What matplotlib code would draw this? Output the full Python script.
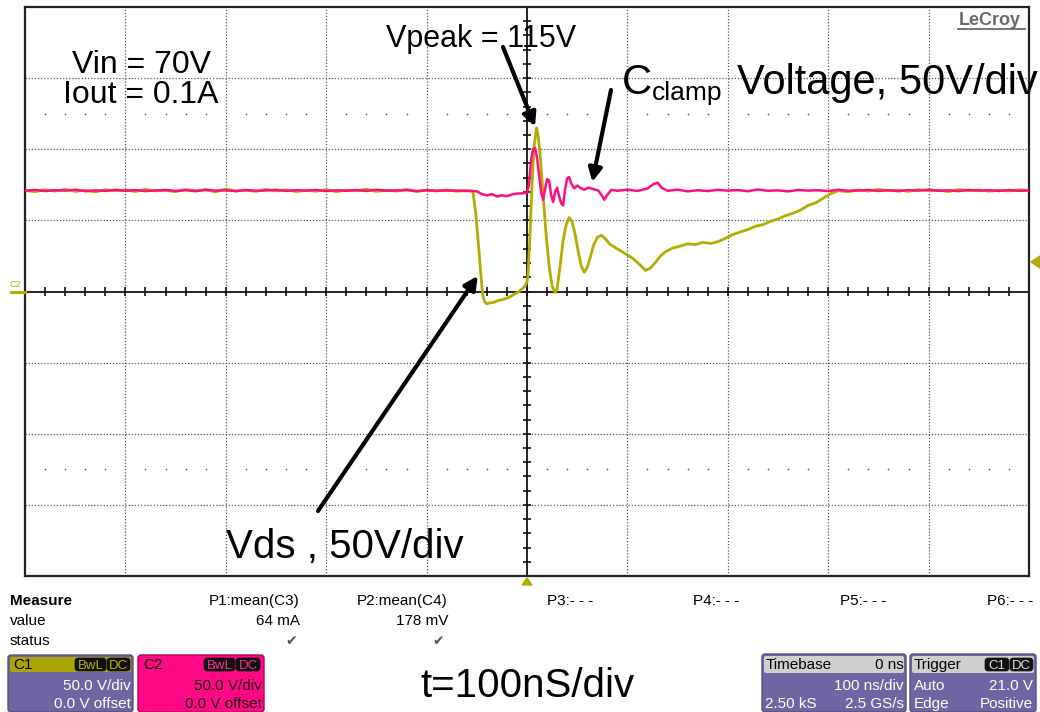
import matplotlib
matplotlib.use("Agg")
import matplotlib.pyplot as plt
from matplotlib.patches import FancyBboxPatch, Polygon
from matplotlib.collections import LineCollection

plt.rcParams['font.family'] = ['Liberation Sans', 'DejaVu Sans']

# ---- waveform data: time in ns, voltage in V (50 V/div, 100 ns/div) ----
vds_t = [-500, -490, -480, -470, -460, -450, -440, -430, -420, -410, -400, -390, -380, -370,
         -360, -350, -340, -330, -320, -310, -300, -290, -280, -270, -260, -250, -240, -230,
         -220, -210, -200, -190, -180, -170, -160, -150, -140, -130, -120, -110, -100, -90,
         -80, -70, -60, -54,
         -51, -48, -46, -44, -42, -40, -37, -33, -29, -25, -21, -17, -13, -9, -5, -2, 0,
         1, 3, 5, 7, 9.5, 11, 13, 16, 19, 22, 25, 28, 30, 33, 36, 39, 42, 45, 48, 51, 54,
         57, 60, 63, 66, 70, 74, 78, 83, 90, 97, 105, 113, 118, 123, 128, 133, 138, 145,
         153, 160, 168, 175, 183, 190, 198, 205, 213, 220, 228, 235, 243, 250, 258, 265,
         273, 280, 288, 295, 303, 310, 320, 330, 340, 350, 360, 370, 380, 390, 400, 410,
         420, 430, 440, 450, 460, 470, 480, 490, 500]
vds_v = [71.0, 70.2, 71.5, 70.6, 71.8, 70.4, 71.2, 70.0, 71.6, 70.8, 71.4, 70.3, 71.9, 70.7,
         71.1, 70.2, 71.7, 70.9, 71.3, 70.1, 72.0, 70.6, 71.2, 70.4, 71.8, 70.7, 71.5, 70.3,
         71.0, 70.5, 71.6, 70.2, 71.3, 70.8, 71.9, 70.4, 71.1, 70.6, 71.7, 70.3, 71.2, 70.7,
         71.4, 70.5, 71.0, 70.6,
         55.0, 30.0, 12.0, -3.0, -7.5, -8.6, -8.0, -7.6, -6.4, -5.8, -4.9, -3.8, -2.0, -0.5,
         1.8, 3.8, 7.0,
         11.0, 40.0, 75.0, 102.0, 115.0, 110.0, 97.0, 68.0, 40.0, 18.0, 4.0, -0.7, 2.0,
         18.0, 36.0, 47.0, 52.0, 49.0, 40.0, 28.0, 18.0,
         13.5, 17.0, 24.0, 32.0, 38.0, 39.5, 37.0, 33.0, 30.0, 27.0, 23.5, 18.5, 14.8, 16.5,
         20.5, 25.0, 28.0, 30.5,
         32.0, 33.5, 33.0, 34.5, 33.8, 35.0, 37.5, 40.0, 42.0, 43.5, 46.0, 47.0, 49.5, 51.0,
         53.5, 55.0, 57.5, 60.5, 62.5, 65.5, 69.0, 70.8, 70.2, 71.4, 70.6, 71.8, 70.9, 71.3,
         70.4, 71.6, 70.8, 71.2, 70.3, 71.7, 70.9, 71.4, 70.5, 71.1, 70.7, 71.5, 71.0]

clamp_t = [-500, -490, -480, -470, -460, -450, -440, -430, -420, -410, -400, -390, -380, -370,
           -360, -350, -340, -330, -320, -310, -300, -290, -280, -270, -260, -250, -240, -230,
           -220, -210, -200, -190, -180, -170, -160, -150, -140, -130, -120, -110, -100, -90,
           -80, -70, -60, -50, -45, -40, -35, -30, -25, -20, -15, -10, -5, 0,
           2, 4, 6, 8, 10, 12, 14, 16, 18, 20, 22, 24, 26, 28, 30, 32, 34, 36, 38, 40, 42,
           44, 47, 50, 53, 57, 61, 66, 71, 75, 77, 80, 84, 90, 100, 110, 120, 126, 130, 134,
           140, 150, 160, 170, 180, 190, 200, 210, 220, 230, 240, 250, 260, 270, 280, 290,
           300, 310, 320, 330, 340, 350, 360, 370, 380, 390, 400, 410, 420, 430, 440, 450,
           460, 470, 480, 490, 500]
clamp_v = [70.8, 71.4, 70.6, 71.2, 70.9, 71.6, 70.5, 71.1, 70.7, 71.5, 70.8, 71.3, 70.6, 71.0,
           71.4, 70.7, 71.2, 70.5, 71.6, 70.9, 71.1, 70.6, 71.3, 70.8, 71.0, 71.5, 70.7, 71.2,
           70.9, 71.4, 70.6, 71.1, 70.8, 71.3, 70.7, 71.5, 70.9, 71.0, 71.3, 70.6, 71.2, 70.8,
           71.0, 70.9, 70.7, 70.5, 68.5, 67.5, 68.5, 66.8, 67.6, 67.0, 68.2, 68.8, 69.0, 69.5,
           75.0, 92.0, 100.0, 101.0, 94.0, 82.0, 70.0, 64.5, 72.0, 79.0, 78.0, 68.0, 63.0,
           70.0, 73.0, 67.0, 62.0, 60.5, 72.0, 79.5, 80.5,
           76.0, 72.5, 74.5, 73.0, 71.5, 73.0, 72.0, 71.0, 67.0, 64.5, 68.0, 71.5, 70.8,
           71.6, 70.7, 72.4, 75.5, 76.5, 73.0,
           70.8, 71.6, 70.4, 71.2, 70.6, 71.5, 70.9, 71.3, 70.5, 71.7, 70.8, 71.1, 70.4, 71.4,
           70.9, 71.2, 70.6, 71.5, 70.8, 71.0, 71.4, 70.7, 71.2, 70.5, 71.3, 70.9, 71.6, 70.8,
           71.1, 70.6, 71.4, 70.9, 71.2, 70.7, 71.3, 70.8, 71.0]

VOLT_PER_DIV = 50
NS_PER_DIV = 100

OLIVE = '#b2ad00'
PINK = '#ff0f7f'
PURPLE = '#6d66a3'

W, H = 1040, 712
fig = plt.figure(figsize=(W / 100, H / 100), dpi=100)
fig.patch.set_facecolor('white')

# scope screen: 10 x 8 divisions
ax = fig.add_axes([25 / W, (H - 576) / H, 1004 / W, 569 / H])
ax.set_xlim(-5 * NS_PER_DIV, 5 * NS_PER_DIV)
ax.set_ylim(-4 * VOLT_PER_DIV, 4 * VOLT_PER_DIV)
ax.set_xticks([])
ax.set_yticks([])
for s in ax.spines.values():
    s.set_linewidth(1.6)
    s.set_color('#222222')

# dotted graticule
for k in range(-4, 5):
    if k != 0:
        ax.axvline(k * NS_PER_DIV, color='#555555', lw=0.9, ls=(0, (1, 1.5)), zorder=1)
for k in range(-3, 4):
    if k != 0:
        ax.axhline(k * VOLT_PER_DIV, color='#555555', lw=0.9, ls=(0, (1, 1.5)), zorder=1)

# centre axes with minor ticks every 0.2 div
ax.axhline(0, color='#111111', lw=1.3, zorder=2)
ax.axvline(0, color='#111111', lw=1.3, zorder=2)
segs = []
for i in range(-25, 26):
    t = i * NS_PER_DIV / 5
    segs.append([(t, -2.9), (t, 2.9)])
for i in range(-20, 21):
    v = i * VOLT_PER_DIV / 5
    segs.append([(-4.2, v), (4.2, v)])
ax.add_collection(LineCollection(segs, colors='#111111', linewidths=1.2, zorder=2))

# dotted marker rows at +/- 2.5 div
dot_t = [i * NS_PER_DIV / 5 for i in range(-24, 25) if i % 5 != 0]
for v in (2.5 * VOLT_PER_DIV, -2.5 * VOLT_PER_DIV):
    ax.scatter(dot_t, [v] * len(dot_t), s=1.5, color='#555555', zorder=1, linewidths=0)

# traces
ax.plot(vds_t, vds_v, color=OLIVE, lw=2.0, zorder=3)
ax.plot(clamp_t, clamp_v, color=PINK, lw=1.8, zorder=4)

# overlay in pixel coordinates for labels and the status panel
ov = fig.add_axes([0, 0, 1, 1], zorder=5)
ov.set_xlim(0, W)
ov.set_ylim(H, 0)
ov.axis('off')
ov.patch.set_alpha(0)


def txt(x, y, s, size, ha='left', color='black', weight='normal', **kw):
    ov.text(x, y, s, fontsize=size, ha=ha, va='baseline', color=color,
            fontweight=weight, **kw)


# annotations
txt(141, 73, 'Vin = 70V', 23, ha='center')
txt(141, 103, 'Iout = 0.1A', 23, ha='center')
txt(386, 47, 'Vpeak = 115V', 22)
txt(622, 94, 'C', 30)
txt(652, 100, 'clamp', 19)
txt(737, 94, 'Voltage, 50V/div', 30)
txt(226, 558, 'Vds , 50V/div', 29)
txt(420, 697, 't=100nS/div', 29)

arrow = dict(arrowstyle='-|>', lw=3, color='black', mutation_scale=20, shrinkA=0, shrinkB=0)
ax.annotate('', xy=(8, 116), xycoords='data', xytext=(503, 47), textcoords=ov.transData,
            arrowprops=arrow)
ax.annotate('', xy=(65, 77), xycoords='data', xytext=(611, 90), textcoords=ov.transData,
            arrowprops=arrow)
ax.annotate('', xy=(-49, 11), xycoords='data', xytext=(318, 511), textcoords=ov.transData,
            arrowprops=arrow)

# LeCroy badge
txt(959, 25, 'LeCroy', 13, color='#6a6a6a', weight='bold')
ov.plot([958, 1025], [29, 29], color='#6a6a6a', lw=1.3)

# channel / trigger markers on the screen edge
txt(9, 287, 'C2', 6.5, color=OLIVE)
ov.plot([11, 25], [292, 292], color=OLIVE, lw=2.2)
ov.add_patch(Polygon([[1031, 262], [1040, 256], [1040, 268]], closed=True, color=OLIVE))
ov.add_patch(Polygon([[527, 578], [522, 585], [532, 585]], closed=True, color=OLIVE))

# measurement table
MS = 11
txt(10, 605, 'Measure', MS, weight='bold')
txt(10, 625, 'value', MS)
txt(10, 645, 'status', MS)
txt(300, 605, 'P1:mean(C3)', MS, ha='right')
txt(300, 625, '64 mA', MS, ha='right')
txt(448, 605, 'P2:mean(C4)', MS, ha='right')
txt(448, 625, '178 mV', MS, ha='right')
for xc in (291, 438):
    ov.text(xc, 645, '\u2714', fontsize=10, ha='center', va='baseline', color='#555555',
            family='DejaVu Sans')
for xs, lab in ((547, 'P3:- - -'), (693, 'P4:- - -'), (840, 'P5:- - -'), (987, 'P6:- - -')):
    txt(xs, 605, lab, MS)


def box(x, y, w, h, fc, ec='#4a4a6a', lw=1.0, r=3):
    ov.add_patch(FancyBboxPatch((x, y), w, h, boxstyle=f'round,pad=0,rounding_size={r}',
                                fc=fc, ec=ec, lw=lw))


def badge(x, w, y, label, fc, tc):
    box(x, y, w, 13, fc, ec=fc, lw=0.5, r=3)
    ov.text(x + w / 2, y + 11, label, fontsize=9.5, ha='center', va='baseline', color=tc)


CS = 11
# C1 descriptor
box(8, 655, 125, 57, PURPLE, ec='#55507f')
ov.add_patch(FancyBboxPatch((10, 657), 121, 15, boxstyle='round,pad=0,rounding_size=2',
                            fc='#aaa500', ec='none'))
txt(13, 669, 'C1', CS)
badge(75, 31, 658, 'BwL', '#111111', '#b9b400')
badge(107, 23, 658, 'DC', '#111111', '#b9b400')
txt(131, 690, '50.0 V/div', CS, ha='right', color='white')
txt(131, 708, '0.0 V offset', CS, ha='right', color='white')

# C2 descriptor
box(138, 655, 126, 57, '#ff0a84', ec='#b00060')
txt(143, 669, 'C2', CS)
badge(204, 31, 658, 'BwL', '#111111', '#ff2d95')
badge(236, 24, 658, 'DC', '#111111', '#ff2d95')
txt(262, 690, '50.0 V/div', CS, ha='right', color='#1a0010')
txt(262, 708, '0.0 V offset', CS, ha='right', color='#1a0010')

# Timebase descriptor
box(762, 654, 144, 58, PURPLE, ec='#55507f')
ov.add_patch(FancyBboxPatch((764, 656), 140, 17, boxstyle='round,pad=0,rounding_size=2',
                            fc='#cfcfcf', ec='none'))
txt(766, 669, 'Timebase', CS)
txt(904, 669, '0 ns', CS, ha='right')
txt(904, 690, '100 ns/div', CS, ha='right', color='white')
txt(765, 708, '2.50 kS', CS, color='white')
txt(904, 708, '2.5 GS/s', CS, ha='right', color='white')

# Trigger descriptor
box(910, 654, 126, 58, PURPLE, ec='#55507f')
ov.add_patch(FancyBboxPatch((912, 656), 122, 17, boxstyle='round,pad=0,rounding_size=2',
                            fc='#cfcfcf', ec='none'))
txt(914, 669, 'Trigger', CS)
badge(985, 24, 658, 'C1', '#111111', '#dddddd')
badge(1010, 23, 658, 'DC', '#111111', '#dddddd')
txt(914, 690, 'Auto', CS, color='white')
txt(1033, 690, '21.0 V', CS, ha='right', color='white')
txt(914, 708, 'Edge', CS, color='white')
txt(1033, 708, 'Positive', CS, ha='right', color='white')

fig.savefig('out.png', dpi=100, facecolor='white')
